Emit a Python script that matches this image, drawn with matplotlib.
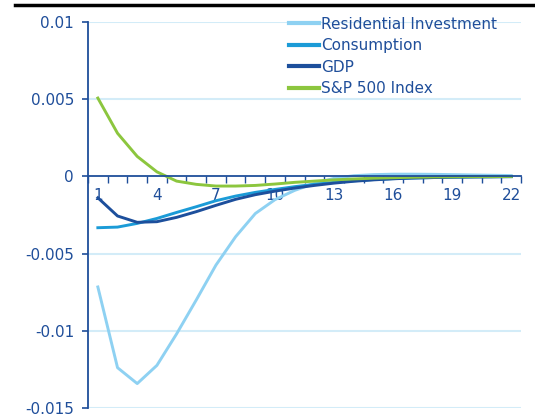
import numpy as np
import matplotlib.pyplot as plt
from matplotlib.lines import Line2D

periods = np.arange(1, 23)
residential = [-7.16, -12.39, -13.42, -12.24, -10.2, -8.0, -5.74, -3.9, -2.4, -1.5,
               -0.9, -0.45, -0.12, 0.05, 0.12, 0.15, 0.15, 0.14, 0.12, 0.1, 0.08, 0.06]
consumption = [-3.32, -3.28, -3.04, -2.72, -2.33, -1.96, -1.57, -1.27, -1.03, -0.84,
               -0.66, -0.51, -0.38, -0.28, -0.2, -0.14, -0.1, -0.07, -0.05, -0.03, -0.02, -0.01]
gdp = [-1.38, -2.56, -2.97, -2.93, -2.65, -2.28, -1.87, -1.48, -1.18, -0.95,
       -0.75, -0.58, -0.43, -0.31, -0.22, -0.15, -0.1, -0.07, -0.04, -0.03, -0.02, -0.01]
sp500 = [5.08, 2.8, 1.3, 0.3, -0.3, -0.51, -0.62, -0.62, -0.58, -0.49,
         -0.38, -0.3, -0.22, -0.16, -0.11, -0.08, -0.05, -0.03, -0.02, -0.01, -0.01, 0.0]
names = ['Residential Investment', 'Consumption', 'GDP', 'S&P 500 Index']
colors = ['#8ed1f2', '#1b9bd7', '#1d4f9c', '#8cc63e']

yticks = [0.01, 0.005, 0, -0.005, -0.01, -0.015]
ylabels = ['0.01', '0.005', '0', '-0.005', '-0.01', '-0.015']
axis_col = '#1f4e9a'

fig = plt.figure(figsize=(5.35, 4.18), dpi=100)
ax = fig.add_axes([0.1645, 0.024, 0.8095, 0.923])

for s, name, c in zip([residential, consumption, gdp, sp500], names, colors):
    ax.plot(periods, np.array(s) / 1000, color=c, lw=2.1, label=name)

ax.set_xlim(0.5, 22.5)
ax.set_ylim(-0.015, 0.01)
ax.set_yticks(yticks)
ax.set_yticklabels(ylabels)
for y in yticks:
    if y != 0:
        ax.axhline(y, color='#d3ecf8', lw=1.5, zorder=0)

for sp in ['top', 'right']:
    ax.spines[sp].set_visible(False)
ax.spines['bottom'].set_position(('data', 0))
ax.spines['bottom'].set_color(axis_col)
ax.spines['left'].set_color(axis_col)
ax.spines['bottom'].set_linewidth(1.3)
ax.spines['left'].set_linewidth(1.3)

ax.set_xticks(np.arange(1, 23, 3))
ax.set_xticks(np.arange(0.5, 23, 1), minor=True)
ax.tick_params(axis='x', which='major', length=0, pad=8, labelsize=11, labelcolor=axis_col)
ax.tick_params(axis='x', which='minor', length=5, width=1, direction='out', color=axis_col)
ax.tick_params(axis='y', length=4, width=1.2, color=axis_col, labelsize=11,
               labelcolor=axis_col, pad=6)

handles = [Line2D([], [], color=c, lw=3) for c in colors]
leg = ax.legend(handles, names, loc='upper right', bbox_to_anchor=(0.958, 1.03),
                frameon=False, fontsize=11, handlelength=2.0, handletextpad=0.1,
                labelspacing=0.42, borderaxespad=0)
for t in leg.get_texts():
    t.set_color(axis_col)

fig.add_artist(Line2D([0.028, 1.0], [0.987, 0.987], color='black', lw=2.5,
                      transform=fig.transFigure))

fig.savefig('out.png', dpi=100)
